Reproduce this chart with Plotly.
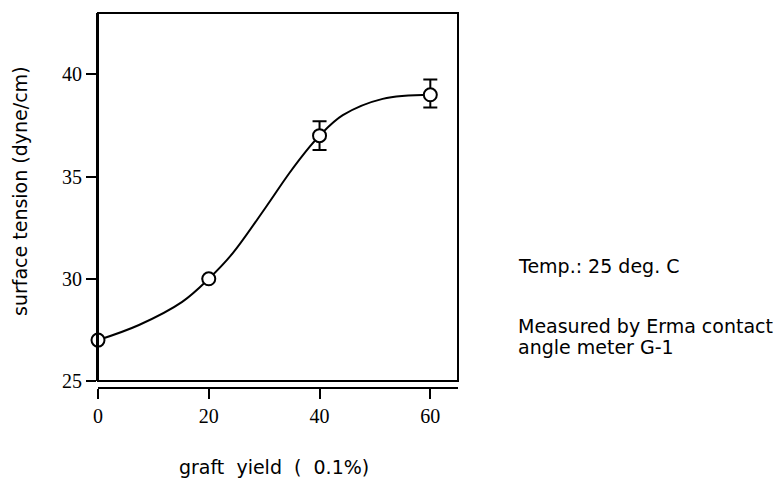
import plotly.graph_objects as go

# data
graft_yield = [0, 20, 40, 60]
surface_tension = [27.0, 30.0, 37.0, 39.0]
err_plus = [0, 0, 0.7, 0.75]
err_minus = [0, 0, 0.7, 0.62]

# points
curve_x = [0, 7.4, 15.2, 20, 24.3, 30.3, 34.5, 38.2, 40, 44.2, 51.4, 60]
curve_y = [27.0, 27.74, 28.87, 30.0, 31.24, 33.5, 35.15, 36.45, 37.0, 38.0, 38.8, 39.0]

x_ticks = [0, 20, 40, 60]
y_ticks = [25, 30, 35, 40]

# layout in pixels
W, H = 778, 480
L, R, T, B = 98, 320, 13, 92
PW, PH = W - L - R, H - T - B
Y0 = 7 / PH  # plot bottom sits 7 px above the detached x axis


def px_x(p):
    return (p - L) / PW


def px_y(p):
    return (H - B - p) / PH


SANS = "DejaVu Sans"
SERIF = "Liberation Serif"

fig = go.Figure()
fig.add_trace(go.Scatter(
    x=curve_x, y=curve_y, mode="lines",
    line=dict(color="black", width=2, shape="spline", smoothing=1.0),
    hoverinfo="skip", showlegend=False, cliponaxis=False,
))
fig.add_trace(go.Scatter(
    x=graft_yield, y=surface_tension, mode="markers",
    marker=dict(symbol="circle", size=13, color="white",
                line=dict(color="black", width=2)),
    error_y=dict(type="data", symmetric=False, array=err_plus,
                 arrayminus=err_minus, color="black", thickness=2, width=7),
    showlegend=False, cliponaxis=False,
))

# plot frame
fig.add_shape(type="rect", xref="paper", yref="paper", x0=0, x1=1, y0=Y0, y1=1,
              line=dict(color="black", width=2), layer="above")

annotations = [
    dict(text="surface tension (dyne/cm)", x=px_x(20), y=px_y(191), textangle=-90,
         font=dict(family=SANS, size=19, color="black")),
    dict(text="graft\u00a0\u00a0yield\u00a0\u00a0(\u00a0\u00a00.1%)", x=px_x(274), y=px_y(467),
         font=dict(family=SANS, size=19, color="black")),
    dict(text="Temp.: 25 deg. C", x=px_x(516), y=px_y(266), xanchor="left",
         font=dict(family=SANS, size=19, color="black")),
    dict(text="Measured by Erma contact", x=px_x(516), y=px_y(326), xanchor="left",
         font=dict(family=SANS, size=19, color="black")),
    dict(text="angle meter G-1", x=px_x(516), y=px_y(347), xanchor="left",
         font=dict(family=SANS, size=19, color="black")),
]
for a in annotations:
    a.update(xref="paper", yref="paper", showarrow=False)
    a.setdefault("xanchor", "center")
    a.setdefault("yanchor", "middle")

tick_font = dict(family=SERIF, size=20, color="black")

fig.update_layout(
    width=W, height=H,
    font=tick_font,
    margin=dict(l=L, r=R, t=T, b=B, pad=0),
    paper_bgcolor="white", plot_bgcolor="white",
    annotations=annotations,
    xaxis=dict(
        range=[0, 65], anchor="free", position=0,
        showline=True, linecolor="black", linewidth=2,
        ticks="outside", ticklen=10, tickwidth=2, tickcolor="black",
        tickmode="array", tickvals=x_ticks, ticktext=[str(v) for v in x_ticks],
        tickfont=tick_font,
        showgrid=False, zeroline=False,
    ),
    yaxis=dict(
        range=[25, 43], domain=[Y0, 1],
        showline=True, linecolor="black", linewidth=2,
        ticks="outside", ticklen=10, tickwidth=2, tickcolor="black",
        tickmode="array", tickvals=y_ticks, ticktext=[str(v) for v in y_ticks],
        tickfont=tick_font,
        showgrid=False, zeroline=False,
    ),
)

fig.write_html("out.html")
